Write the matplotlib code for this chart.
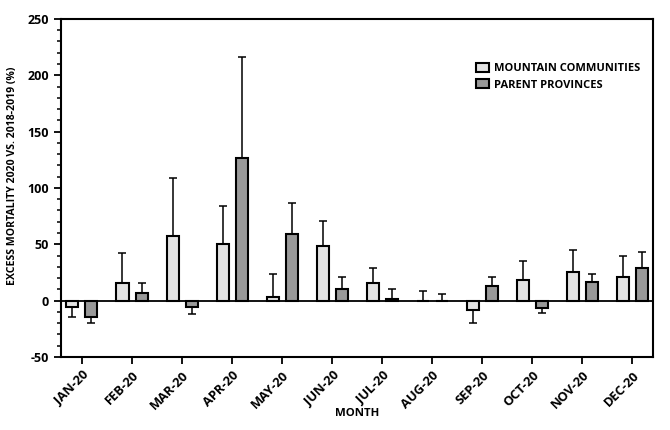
import numpy as np
import matplotlib.pyplot as plt
from matplotlib.ticker import MultipleLocator

# values
months = ['JAN-20', 'FEB-20', 'MAR-20', 'APR-20', 'MAY-20', 'JUN-20',
          'JUL-20', 'AUG-20', 'SEP-20', 'OCT-20', 'NOV-20', 'DEC-20']
mountain = [-6, 16, 57, 50, 3, 48, 15.5, 0, -8, 18, 25.5, 20.5]
mountain_err_end = [-15, 42, 109, 84, 24, 70.5, 28.5, 8.5, -20, 35.5, 44.5, 40]
parent = [-15, 7, -6, 126.5, 59, 10, 1.5, 0, 12.5, -7, 16.5, 29]
parent_err_end = [-20, 16, -12, 216.5, 87, 20.5, 10, 5.5, 21, -11, 23.5, 43]

plt.rcParams['font.family'] = ['Open Sans', 'DejaVu Sans']
plt.rcParams['font.weight'] = 'bold'
plt.rcParams['axes.labelweight'] = 'bold'
plt.rcParams['axes.unicode_minus'] = False

fig = plt.figure(figsize=(6.7, 4.3), dpi=100)
ax = fig.add_axes([0.091, 0.170, 0.884, 0.786])

x = np.arange(len(months))
off = 0.19
w = 0.24


def one_sided(vals, ends):
    # error bars only go away from zero, like the original figure
    lo, hi = [], []
    for v, e in zip(vals, ends):
        if e >= v:
            lo.append(0)
            hi.append(e - v)
        else:
            lo.append(v - e)
            hi.append(0)
    return [lo, hi]


ax.errorbar(x - off, mountain, yerr=one_sided(mountain, mountain_err_end), fmt='none',
            ecolor='black', elinewidth=1.1, capsize=3, capthick=1.1, zorder=1)
ax.errorbar(x + off, parent, yerr=one_sided(parent, parent_err_end), fmt='none',
            ecolor='black', elinewidth=1.1, capsize=3, capthick=1.1, zorder=1)
ax.bar(x - off, mountain, width=w, color='#e2e2e2', edgecolor='black', linewidth=1.5,
       label='MOUNTAIN COMMUNITIES', zorder=2)
ax.bar(x + off, parent, width=w, color='#999999', edgecolor='black', linewidth=1.5,
       label='PARENT PROVINCES', zorder=2)
ax.axhline(0, color='black', linewidth=1.3, zorder=3)

ax.set_xlim(-0.42, 11.42)
ax.set_ylim(-50, 250)
ax.yaxis.set_major_locator(MultipleLocator(50))
ax.yaxis.set_minor_locator(MultipleLocator(10))
ax.set_xticks(x)
ax.set_xticklabels(months, rotation=45, ha='right', rotation_mode='anchor', fontsize=9.3)
ax.tick_params(axis='y', labelsize=9)
ax.tick_params(which='major', length=5, width=1.3)
ax.tick_params(which='minor', length=3, width=1.1)
for s in ax.spines.values():
    s.set_linewidth(1.5)

ax.set_ylabel('EXCESS MORTALITY 2020 VS. 2018-2019 (%)', fontsize=7.6)
ax.yaxis.set_label_coords(-0.073, 0.535)
ax.set_xlabel('MONTH', fontsize=8.2)
ax.xaxis.set_label_coords(0.5, -0.15)

ax.legend(loc='upper right', bbox_to_anchor=(0.995, 0.9), frameon=False, fontsize=8,
          handlelength=1.2, handleheight=0.9, handletextpad=0.45, labelspacing=0.45)

fig.savefig('out.png', dpi=100)
